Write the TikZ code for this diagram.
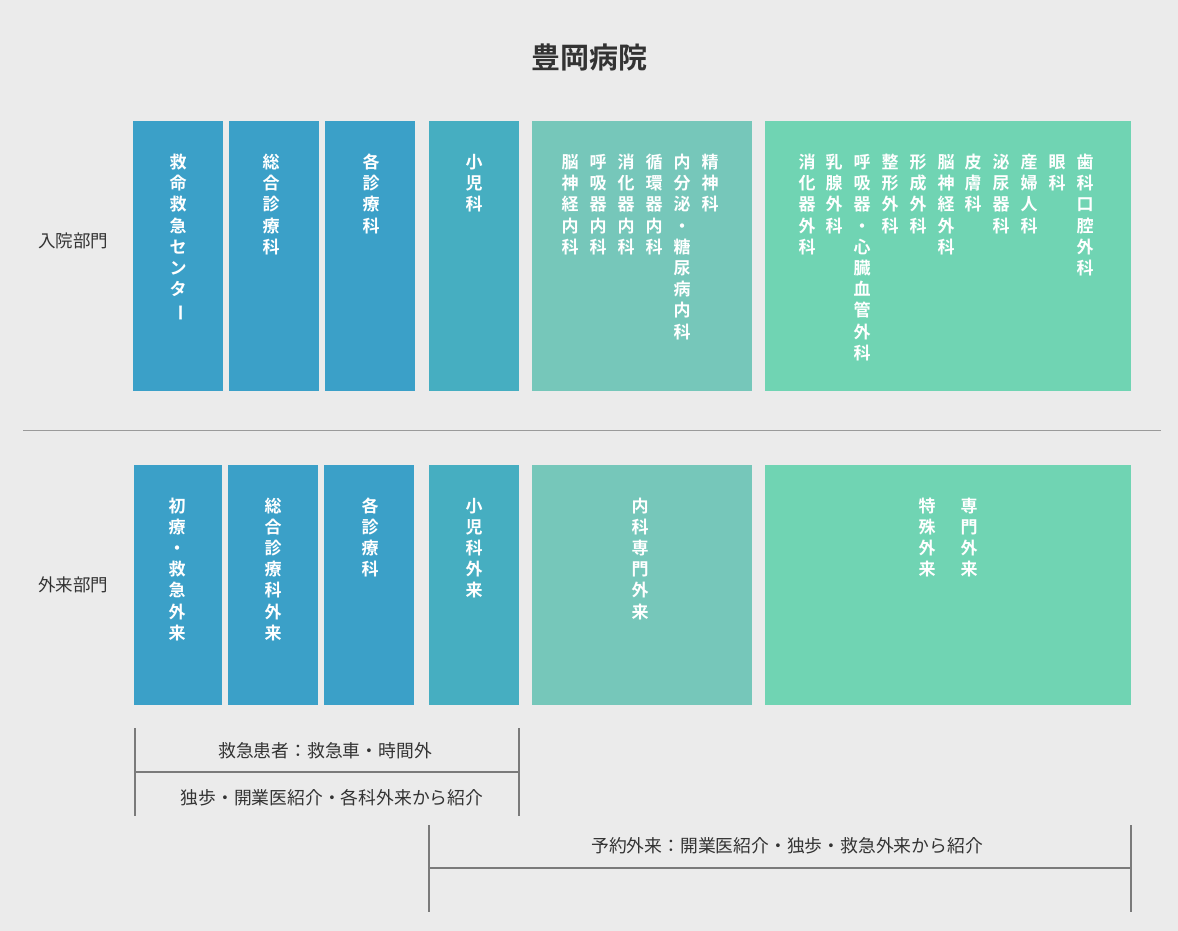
\documentclass[tikz,border=0pt]{standalone}
\usepackage{fontspec}
\usepackage{graphicx}
\newfontfamily\cjk{Noto Sans CJK JP}[BoldFont={Noto Sans CJK JP Bold}]
\definecolor{bgc}{HTML}{EBEBEB}
\definecolor{blueA}{HTML}{3BA0C8}
\definecolor{blueB}{HTML}{46AEC1}
\definecolor{tealA}{HTML}{76C7BA}
\definecolor{tealB}{HTML}{70D4B3}
\definecolor{txt}{HTML}{333333}
\definecolor{linec}{HTML}{7A7A7A}
\definecolor{divc}{HTML}{9A9A9A}
\newcommand{\vbar}{\rotatebox[origin=c]{-90}{ー}}
\makeatletter
\newcommand{\vtloop}[1]{\ifx#1\relax\else\hbox to 20pt{\hss#1\hss}\expandafter\vtloop\fi}
\newcommand{\vt}[1]{\vtop{\baselineskip=21.2pt\lineskiplimit=-100pt\lineskip=0pt\vtloop#1\relax}}
\makeatother
\tikzset{
  dept/.style={anchor=north west, inner sep=0pt, outer sep=0pt, draw=none},
  vtext/.style={anchor=base, inner sep=0pt, text=white, font=\cjk\bfseries\fontsize{17}{21.2}\selectfont},
  sidelab/.style={inner sep=0pt, text=txt, font=\cjk\fontsize{17.5}{20}\selectfont},
  brtext/.style={inner sep=0pt, text=txt, font=\cjk\fontsize{17.8}{20}\selectfont},
  brline/.style={draw=linec, line width=2pt},
}
\begin{document}
\begin{tikzpicture}[x=1pt,y=-1pt]
\fill[bgc] (0,0) rectangle (1178,931);
\useasboundingbox (0,0) rectangle (1178,931);
% title
\node[inner sep=0pt, text=txt, font=\cjk\bfseries\fontsize{29}{32}\selectfont] (title) at (589,57) {豊岡病院};
% side labels
\node[sidelab] (lab1) at (73,241) {入院部門};
\node[sidelab] (lab2) at (73,585) {外来部門};
% divider
\coordinate (dvl) at (23,430);
\coordinate (dvr) at (1161,430);
\draw[divc, line width=1pt] (dvl) -- (dvr);
% top row boxes
\node[dept, fill=blueA, minimum width=90pt, minimum height=270pt] (t1) at (133,121) {};
\node[dept, fill=blueA, minimum width=90pt, minimum height=270pt] (t2) at (229,121) {};
\node[dept, fill=blueA, minimum width=90pt, minimum height=270pt] (t3) at (325,121) {};
\node[dept, fill=blueB, minimum width=90pt, minimum height=270pt] (t4) at (429,121) {};
\node[dept, fill=tealA, minimum width=220pt, minimum height=270pt] (t5) at (532,121) {};
\node[dept, fill=tealB, minimum width=366pt, minimum height=270pt] (t6) at (765,121) {};
% bottom row boxes
\node[dept, fill=blueA, minimum width=88pt, minimum height=240pt] (u1) at (134,465) {};
\node[dept, fill=blueA, minimum width=90pt, minimum height=240pt] (u2) at (228,465) {};
\node[dept, fill=blueA, minimum width=90pt, minimum height=240pt] (u3) at (324,465) {};
\node[dept, fill=blueB, minimum width=90pt, minimum height=240pt] (u4) at (429,465) {};
\node[dept, fill=tealA, minimum width=220pt, minimum height=240pt] (u5) at (532,465) {};
\node[dept, fill=tealB, minimum width=366pt, minimum height=240pt] (u6) at (765,465) {};
% top row texts
\node[vtext] (ta) at (178,168.5) {\vt{救命救急センタ\vbar}};
\node[vtext] (tb) at (271,168.5) {\vt{総合診療科}};
\node[vtext] (tc) at (371,168.5) {\vt{各診療科}};
\node[vtext] (td) at (474,168.5) {\vt{小児科}};
\node[vtext] (te1) at (570,168.5) {\vt{脳神経内科}};
\node[vtext] (te2) at (598,168.5) {\vt{呼吸器内科}};
\node[vtext] (te3) at (626,168.5) {\vt{消化器内科}};
\node[vtext] (te4) at (654,168.5) {\vt{循環器内科}};
\node[vtext] (te5) at (682,168.5) {\vt{内分泌・糖尿病内科}};
\node[vtext] (te6) at (710,168.5) {\vt{精神科}};
\node[vtext] (tf1) at (807,168.5) {\vt{消化器外科}};
\node[vtext] (tf2) at (834,168.5) {\vt{乳腺外科}};
\node[vtext] (tf3) at (862,168.5) {\vt{呼吸器・心臓血管外科}};
\node[vtext] (tf4) at (890,168.5) {\vt{整形外科}};
\node[vtext] (tf5) at (918,168.5) {\vt{形成外科}};
\node[vtext] (tf6) at (946,168.5) {\vt{脳神経外科}};
\node[vtext] (tf7) at (973,168.5) {\vt{皮膚科}};
\node[vtext] (tf8) at (1001,168.5) {\vt{泌尿器科}};
\node[vtext] (tf9) at (1029,168.5) {\vt{産婦人科}};
\node[vtext] (tf10) at (1057,168.5) {\vt{眼科}};
\node[vtext] (tf11) at (1085,168.5) {\vt{歯科口腔外科}};
% bottom row texts
\node[vtext] (ua) at (177,512) {\vt{初療・救急外来}};
\node[vtext] (ub) at (273,512) {\vt{総合診療科外来}};
\node[vtext] (uc) at (370,512) {\vt{各診療科}};
\node[vtext] (ud) at (474,512) {\vt{小児科外来}};
\node[vtext] (ue) at (640,512) {\vt{内科専門外来}};
\node[vtext] (uf1) at (927,512) {\vt{特殊外来}};
\node[vtext] (uf2) at (969,512) {\vt{専門外来}};
% bracket 1
\coordinate (b1lt) at (135,728);
\coordinate (b1lb) at (135,816);
\coordinate (b1rt) at (519,728);
\coordinate (b1rb) at (519,816);
\coordinate (b1lm) at (135,772);
\coordinate (b1rm) at (519,772);
\draw[brline] (b1lt) -- (b1lb);
\draw[brline] (b1rt) -- (b1rb);
\draw[brline] (b1lm) -- (b1rm);
\node[brtext] (br1a) at (325,751) {救急患者：救急車・時間外};
\node[brtext] (br1b) at (332,798) {独歩・開業医紹介・各科外来から紹介};
% bracket 2
\coordinate (b2lt) at (429,825);
\coordinate (b2lb) at (429,912);
\coordinate (b2rt) at (1131,825);
\coordinate (b2rb) at (1131,912);
\coordinate (b2lm) at (429,868);
\coordinate (b2rm) at (1131,868);
\draw[brline] (b2lt) -- (b2lb);
\draw[brline] (b2rt) -- (b2rb);
\draw[brline] (b2lm) -- (b2rm);
\node[brtext] (br2) at (787,846) {予約外来：開業医紹介・独歩・救急外来から紹介};
\end{tikzpicture}
\end{document}
